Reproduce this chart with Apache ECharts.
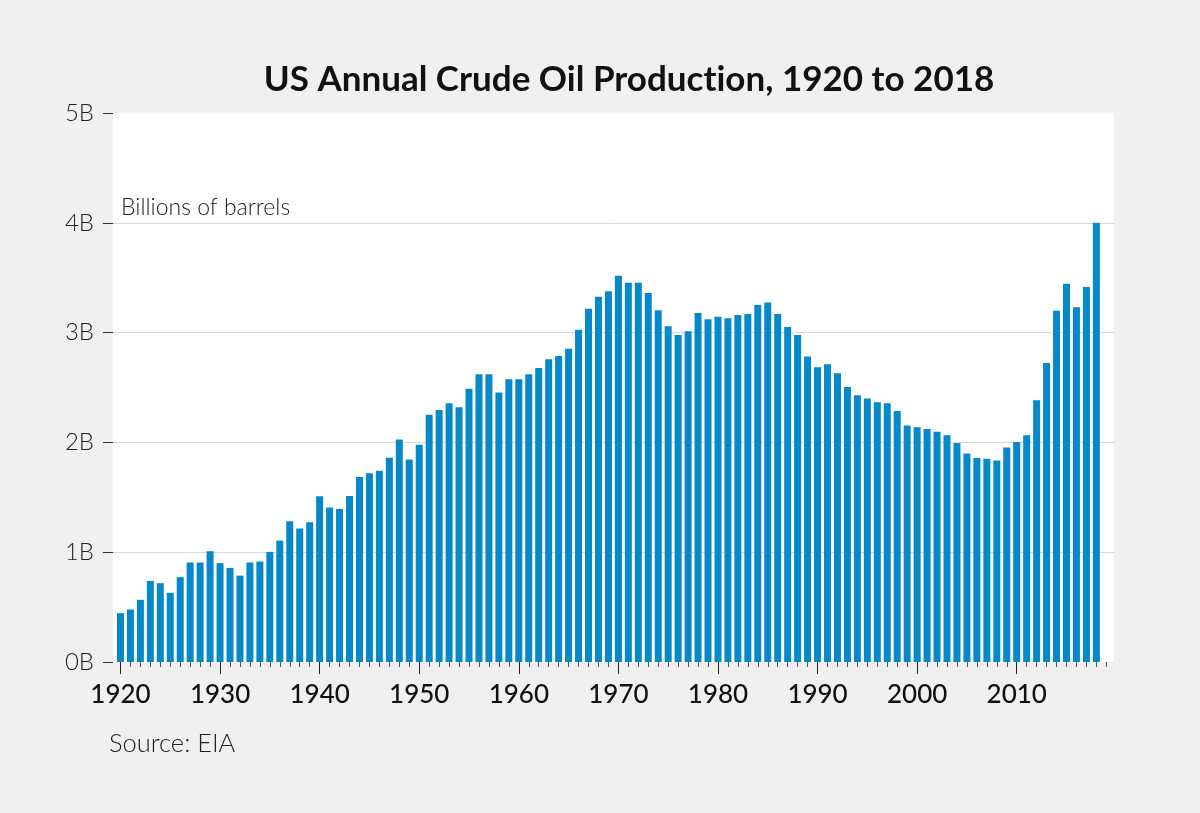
<!DOCTYPE html>
<html>
<head>
<meta charset="utf-8">
<script src="https://cdn.jsdelivr.net/npm/echarts@6/dist/echarts.min.js"></script>
<style>
html,body{margin:0;padding:0;background:#f0f0f0;}
#chart{width:1200px;height:813px;}
</style>
</head>
<body>
<div id="chart"></div>
<script>
const years = [1920,1921,1922,1923,1924,1925,1926,1927,1928,1929,
1930,1931,1932,1933,1934,1935,1936,1937,1938,1939,
1940,1941,1942,1943,1944,1945,1946,1947,1948,1949,
1950,1951,1952,1953,1954,1955,1956,1957,1958,1959,
1960,1961,1962,1963,1964,1965,1966,1967,1968,1969,
1970,1971,1972,1973,1974,1975,1976,1977,1978,1979,
1980,1981,1982,1983,1984,1985,1986,1987,1988,1989,
1990,1991,1992,1993,1994,1995,1996,1997,1998,1999,
2000,2001,2002,2003,2004,2005,2006,2007,2008,2009,
2010,2011,2012,2013,2014,2015,2016,2017,2018];

// billions of barrels
const production = [0.445,0.478,0.566,0.739,0.718,0.630,0.773,0.906,0.906,1.009,
0.900,0.857,0.787,0.906,0.915,1.003,1.106,1.282,1.215,1.273,
1.510,1.407,1.394,1.512,1.685,1.718,1.742,1.860,2.027,1.845,
1.978,2.251,2.294,2.357,2.321,2.488,2.621,2.621,2.455,2.576,
2.576,2.621,2.678,2.757,2.788,2.852,3.027,3.218,3.327,3.376,
3.518,3.455,3.455,3.360,3.203,3.057,2.978,3.012,3.179,3.121,
3.145,3.130,3.160,3.169,3.251,3.273,3.169,3.051,2.978,2.782,
2.685,2.712,2.630,2.505,2.430,2.400,2.366,2.357,2.287,2.153,
2.138,2.121,2.096,2.066,1.994,1.900,1.857,1.851,1.836,1.954,
2.003,2.066,2.385,2.724,3.200,3.445,3.230,3.415,4.000];

const tickYears = [1920,1921,1922,1923,1924,1925,1926,1927,1928,1929,
1930,1931,1932,1933,1934,1935,1936,1937,1938,1939,
1940,1941,1942,1943,1944,1945,1946,1947,1948,1949,
1950,1951,1952,1953,1954,1955,1956,1957,1958,1959,
1960,1961,1962,1963,1964,1965,1966,1967,1968,1969,
1970,1971,1972,1973,1974,1975,1976,1977,1978,1979,
1980,1981,1982,1983,1984,1985,1986,1987,1988,1989,
1990,1991,1992,1993,1994,1995,1996,1997,1998,1999,
2000,2001,2002,2003,2004,2005,2006,2007,2008,2009,
2010,2011,2012,2013,2014,2015,2016,2017,2018,2019];
const labelYears = [1920,1930,1940,1950,1960,1970,1980,1990,2000,2010];

// title split in two rich-text runs between "t" and "i" so no ligature is drawn
const titlePartA = 'US Annual Crude Oil Product';
const titlePartB = 'ion, 1920 to 2018';
const unitText = 'Billions of barrels';
const sourceText = 'Source: EIA';

const data = years.map((y, i) => [y, production[i]]);

const chart = echarts.init(document.getElementById('chart'), null, {renderer: 'canvas'});
const xMin = 1919.25, xMax = 2019.77;
const titleRun = {fontFamily: 'Lato, sans-serif', fontWeight: 'bold', fontSize: 35, color: '#111'};
chart.setOption({
  backgroundColor: '#f0f0f0',
  animation: false,
  grid: {left: 113, right: 86, top: 113, bottom: 151, show: true, backgroundColor: '#ffffff', borderWidth: 0},
  graphic: [
    {type: 'text', x: 629, y: 80, style: {
      text: '{a|' + titlePartA + '}{b|' + titlePartB + '}',
      rich: {a: titleRun, b: titleRun},
      font: 'bold 35px Lato, sans-serif', fill: '#111', textAlign: 'center', textVerticalAlign: 'middle'}},
    {type: 'text', x: 121, y: 208, style: {text: unitText, font: '300 23px Lato, sans-serif', fill: '#222', textAlign: 'left', textVerticalAlign: 'middle'}},
    {type: 'text', x: 109, y: 744, style: {text: sourceText, font: '300 25.5px Lato, sans-serif', fill: '#222', textAlign: 'left', textVerticalAlign: 'middle'}}
  ],
  xAxis: [
    {
      type: 'value', min: xMin, max: xMax, position: 'bottom', offset: 0,
      axisLine: {show: false},
      axisTick: {show: true, length: 5, customValues: tickYears, lineStyle: {color: '#555', width: 1}},
      axisLabel: {show: false},
      splitLine: {show: false}
    },
    {
      type: 'value', min: xMin, max: xMax, position: 'bottom', offset: 0,
      axisLine: {show: false},
      axisTick: {show: true, length: 12, customValues: labelYears, lineStyle: {color: '#222', width: 1}},
      axisLabel: {show: true, customValues: labelYears, margin: 20, fontFamily: 'Lato, sans-serif', fontWeight: 500, fontSize: 26, color: '#111', formatter: v => String(Math.round(v))},
      splitLine: {show: false}
    }
  ],
  yAxis: {
    type: 'value', min: 0, max: 5, interval: 1,
    axisLine: {show: false},
    axisTick: {show: true, inside: false, length: 10, lineStyle: {color: '#333', width: 1}},
    axisLabel: {margin: 19, fontFamily: 'Lato, sans-serif', fontWeight: 300, fontSize: 24, color: '#222', formatter: v => v + 'B'},
    splitLine: {show: true, showMinLine: false, showMaxLine: false, lineStyle: {color: '#d9d9d9', width: 1}}
  },
  series: [{
    type: 'bar',
    xAxisIndex: 0,
    data: data,
    barWidth: 7,
    itemStyle: {color: '#0589c9'}
  }]
});
</script>
</body>
</html>
